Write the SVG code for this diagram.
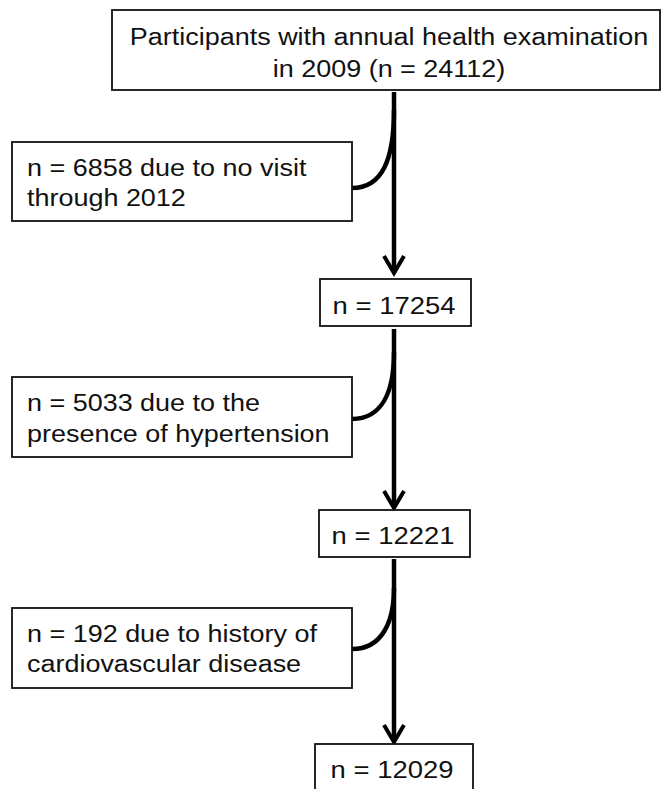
<svg xmlns="http://www.w3.org/2000/svg" width="662" height="789" viewBox="0 0 662 789">
<defs>
<style>
.box{fill:#fff;stroke:#111;stroke-width:1.8}
.t{font-family:"Liberation Sans",Arial,sans-serif;font-size:24.5px;fill:#111}
.c{text-anchor:middle}
.ln{fill:none;stroke:#000;stroke-width:4.5}
.ah{fill:none;stroke:#000;stroke-width:4;stroke-linecap:butt;stroke-linejoin:miter}
</style>
</defs>
<rect width="662" height="789" fill="#fff"/>
<g id="connectors">
<path class="ln" d="M394,92 V270"/>
<path class="ln" d="M352,188 C382,188 394,160 394,110"/>
<path class="ah" d="M384,256 L394,273 L404,256"/>
<path class="ln" d="M394,329 V505"/>
<path class="ln" d="M352,419 C382,419 394,392 394,352"/>
<path class="ah" d="M384,491 L394,508 L404,491"/>
<path class="ln" d="M394,559 V739"/>
<path class="ln" d="M352,649 C382,649 394,622 394,588"/>
<path class="ah" d="M384,725 L394,742 L404,725"/>
</g>
<g id="n0">
<rect class="box" x="112" y="10" width="548" height="80"/>
<text class="t c" transform="translate(389,45) scale(1.1,1)">Participants with annual health examination</text>
<text class="t c" transform="translate(389,77) scale(1.1,1)">in 2009 (n = 24112)</text>
</g>
<g id="e1">
<rect class="box" x="12" y="142" width="340" height="79"/>
<text class="t" transform="translate(27,176) scale(1.1,1)">n = 6858 due to no visit</text>
<text class="t" transform="translate(27,206) scale(1.1,1)">through 2012</text>
</g>
<g id="n1">
<rect class="box" x="320" y="279" width="151" height="47"/>
<text class="t c" transform="translate(394,314) scale(1.12,1)">n = 17254</text>
</g>
<g id="e2">
<rect class="box" x="12" y="377" width="340" height="80"/>
<text class="t" transform="translate(27,411) scale(1.1,1)">n = 5033 due to the</text>
<text class="t" transform="translate(27,442) scale(1.1,1)">presence of hypertension</text>
</g>
<g id="n2">
<rect class="box" x="319" y="510" width="151" height="47"/>
<text class="t c" transform="translate(393,544) scale(1.12,1)">n = 12221</text>
</g>
<g id="e3">
<rect class="box" x="12" y="608" width="340" height="80"/>
<text class="t" transform="translate(27,642) scale(1.1,1)">n = 192 due to history of</text>
<text class="t" transform="translate(27,672) scale(1.1,1)">cardiovascular disease</text>
</g>
<g id="n3">
<rect class="box" x="315" y="744" width="158" height="60"/>
<text class="t c" transform="translate(392,778) scale(1.12,1)">n = 12029</text>
</g>
</svg>
